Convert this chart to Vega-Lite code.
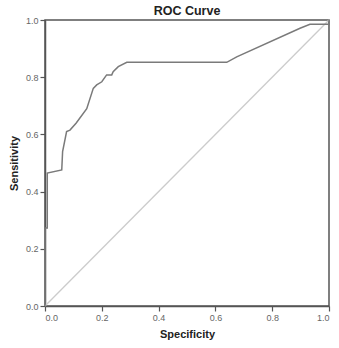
{
  "$schema": "https://vega.github.io/schema/vega-lite/v6.json",
  "autosize": {"type": "none"},
  "padding": {"left": 45, "top": 20, "right": 10, "bottom": 42},
  "width": 284,
  "height": 286,
  "background": "#ffffff",
  "title": {"text": "ROC Curve", "font": "Liberation Sans", "fontSize": 12.5, "fontWeight": "bold", "color": "#222222", "offset": -1, "anchor": "middle"},
  "config": {
    "view": {"stroke": "#555555", "strokeWidth": 1.5},
    "axis": {"grid": false, "domainColor": "#555555", "domainWidth": 1.5, "tickColor": "#555555", "tickWidth": 1.2, "tickSize": 5, "labelFont": "Liberation Sans", "labelFontSize": 9, "labelColor": "#666666", "titleFont": "Liberation Sans", "titleFontSize": 11, "titleFontWeight": "bold", "titleColor": "#222222"}
  },
  "layer": [
    {
      "data": {"values": [{"spec": 0, "sens": 0}, {"spec": 1, "sens": 1}]},
      "mark": {"type": "line", "color": "#cccccc", "strokeWidth": 1.3},
      "encoding": {
        "x": {"field": "spec", "type": "quantitative", "scale": {"domain": [0, 1]}, "axis": {"title": "Specificity", "values": [0, 0.2, 0.4, 0.6, 0.8, 1], "format": ".1f", "labelPadding": 2, "titlePadding": 6}},
        "y": {"field": "sens", "type": "quantitative", "scale": {"domain": [0, 1]}, "axis": {"title": "Sensitivity", "values": [0, 0.2, 0.4, 0.6, 0.8, 1], "format": ".1f", "labelPadding": 2, "titlePadding": 6}}
      }
    },
    {
      "data": {"values": [
        {"i": 0, "spec": 0, "sens": 0},
        {"i": 1, "spec": 0, "sens": 0.273},
        {"i": 2, "spec": 0.008, "sens": 0.273},
        {"i": 3, "spec": 0.008, "sens": 0.465},
        {"i": 4, "spec": 0.059, "sens": 0.476},
        {"i": 5, "spec": 0.062, "sens": 0.54},
        {"i": 6, "spec": 0.076, "sens": 0.61},
        {"i": 7, "spec": 0.088, "sens": 0.615},
        {"i": 8, "spec": 0.11, "sens": 0.64},
        {"i": 9, "spec": 0.147, "sens": 0.69},
        {"i": 10, "spec": 0.17, "sens": 0.761},
        {"i": 11, "spec": 0.182, "sens": 0.773},
        {"i": 12, "spec": 0.2, "sens": 0.784},
        {"i": 13, "spec": 0.217, "sens": 0.808},
        {"i": 14, "spec": 0.235, "sens": 0.808},
        {"i": 15, "spec": 0.24, "sens": 0.819},
        {"i": 16, "spec": 0.258, "sens": 0.837},
        {"i": 17, "spec": 0.288, "sens": 0.852},
        {"i": 18, "spec": 0.64, "sens": 0.852},
        {"i": 19, "spec": 0.675, "sens": 0.871},
        {"i": 20, "spec": 0.898, "sens": 0.971},
        {"i": 21, "spec": 0.933, "sens": 0.985},
        {"i": 22, "spec": 1, "sens": 0.985},
        {"i": 23, "spec": 1, "sens": 1}
      ]},
      "mark": {"type": "line", "color": "#7a7a7a", "strokeWidth": 1.5},
      "encoding": {
        "x": {"field": "spec", "type": "quantitative"},
        "y": {"field": "sens", "type": "quantitative"},
        "order": {"field": "i", "type": "quantitative"}
      }
    }
  ]
}
